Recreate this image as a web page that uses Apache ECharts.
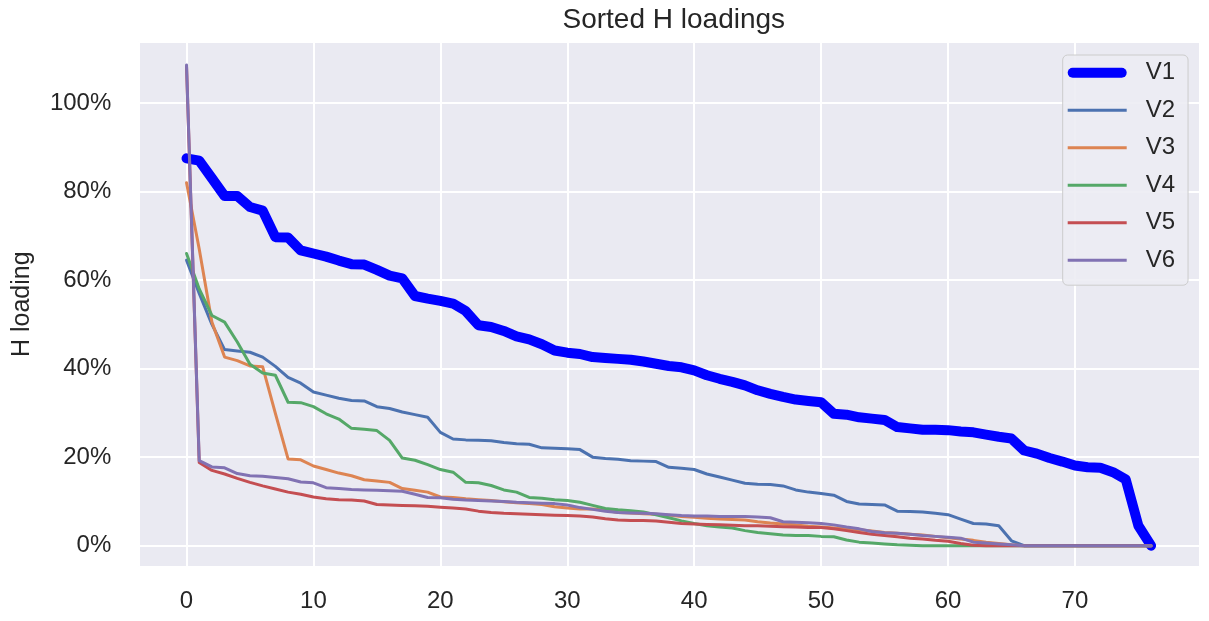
<!DOCTYPE html>
<html>
<head>
<meta charset="utf-8">
<script src="https://cdn.jsdelivr.net/npm/echarts@6/dist/echarts.min.js"></script>
<style>
html,body{margin:0;padding:0;background:#ffffff;}
#chart{width:1209px;height:621px;}
</style>
</head>
<body>
<div id="chart"></div>
<script>
// Sorted H loadings (percent), index 0..76
var seriesNames = ['V1', 'V2', 'V3', 'V4', 'V5', 'V6'];
var V1 = [87.5, 87, 83, 79, 79, 76.5, 75.7, 69.7, 69.6, 66.7, 66, 65.3, 64.4, 63.6, 63.5, 62.3, 61, 60.4, 56.4, 55.8,
  55.3, 54.7, 53, 49.8, 49.4, 48.5, 47.3, 46.6, 45.5, 44.1, 43.6, 43.3, 42.6, 42.4, 42.2, 42, 41.6, 41.1, 40.6, 40.3,
  39.6, 38.5, 37.7, 37, 36.2, 35.1, 34.3, 33.6, 33, 32.7, 32.4, 29.8, 29.6, 29, 28.7, 28.4, 26.8, 26.5, 26.2, 26.2,
  26.1, 25.8, 25.6, 25.1, 24.6, 24.2, 21.5, 20.8, 19.8, 19, 18.1, 17.7, 17.6, 16.6, 15, 4.5, 0];
var V2 = [64.5, 57, 50, 44.3, 44, 43.7, 42.6, 40.5, 38, 36.7, 34.7, 34, 33.3, 32.8, 32.7, 31.4, 31, 30.2, 29.6, 29,
  25.6, 24.1, 23.9, 23.8, 23.7, 23.3, 23, 22.9, 22.1, 22, 21.9, 21.7, 20, 19.7, 19.5, 19.2, 19.1, 19, 17.7, 17.5,
  17.2, 16.2, 15.5, 14.8, 14.1, 13.9, 13.8, 13.5, 12.6, 12.1, 11.8, 11.4, 10, 9.4, 9.3, 9.2, 7.8, 7.7, 7.6, 7.3,
  7, 6, 5, 4.9, 4.5, 1.1, 0, 0, 0, 0, 0, 0, 0, 0, 0, 0, 0];
var V3 = [82, 67, 50.5, 42.6, 41.8, 40.6, 40.4, 29.9, 19.6, 19.4, 18, 17.2, 16.4, 15.8, 14.9, 14.6, 14.3, 12.9, 12.5, 12.1,
  11, 10.9, 10.6, 10.4, 10.2, 9.9, 9.7, 9.5, 9.3, 8.8, 8.5, 8.3, 8.3, 8, 7.5, 7.4, 7.2, 7.1, 6.9, 6.6,
  6.4, 6.2, 6, 5.9, 5.8, 5.4, 5.1, 4.9, 4.7, 4.4, 4.2, 4, 3.8, 3.6, 3.3, 3, 2.8, 2.6, 2.4, 2.1,
  1.8, 1.5, 1.2, 0.8, 0.5, 0.2, 0, 0, 0, 0, 0, 0, 0, 0, 0, 0, 0];
var V4 = [66, 58, 52, 50.5, 46, 41, 39, 38.5, 32.4, 32.3, 31.4, 29.8, 28.6, 26.5, 26.3, 26, 23.8, 19.8, 19.3, 18.3,
  17.2, 16.6, 14.3, 14.2, 13.6, 12.6, 12.1, 10.9, 10.7, 10.4, 10.2, 9.8, 9.1, 8.4, 8.1, 7.9, 7.6, 7, 6.3, 5.6,
  5, 4.5, 4.2, 4, 3.4, 3, 2.7, 2.4, 2.3, 2.3, 2.1, 2, 1.3, 0.8, 0.6, 0.4, 0.2, 0.1, 0, 0,
  0, 0, 0, 0, 0, 0, 0, 0, 0, 0, 0, 0, 0, 0, 0, 0, 0];
var V5 = [108.3, 18.8, 17, 16.2, 15.2, 14.3, 13.5, 12.8, 12.1, 11.6, 11, 10.6, 10.4, 10.3, 10.1, 9.3, 9.2, 9.1, 9, 8.9,
  8.7, 8.5, 8.3, 7.8, 7.5, 7.3, 7.2, 7.1, 7, 6.9, 6.8, 6.7, 6.5, 6.1, 5.8, 5.7, 5.7, 5.6, 5.3, 5,
  4.9, 4.8, 4.7, 4.6, 4.5, 4.5, 4.4, 4.3, 4.2, 4.1, 4.1, 3.8, 3.4, 3, 2.6, 2.3, 2, 1.7, 1.5, 1.2,
  1, 0.5, 0.1, 0, 0, 0, 0, 0, 0, 0, 0, 0, 0, 0, 0, 0, 0];
var V6 = [108.6, 19.2, 17.8, 17.6, 16.3, 15.8, 15.7, 15.4, 15.1, 14.4, 14.2, 13.1, 12.9, 12.7, 12.6, 12.5, 12.4, 12.3, 11.6, 10.9,
  10.8, 10.5, 10.3, 10.2, 10.1, 10, 9.8, 9.7, 9.6, 9.5, 9.2, 8.6, 8.2, 7.8, 7.5, 7.4, 7.3, 7.2, 7, 6.8,
  6.7, 6.7, 6.6, 6.6, 6.6, 6.5, 6.3, 5.4, 5.3, 5.2, 5, 4.7, 4.2, 3.8, 3.2, 2.9, 2.8, 2.6, 2.3, 2.1,
  1.9, 1.7, 0.8, 0.6, 0.4, 0.2, 0, 0, 0, 0, 0, 0, 0, 0, 0, 0, 0];
var xTickValues = [0, 10, 20, 30, 40, 50, 60, 70];
var yTickValues = [0, 20, 40, 60, 80, 100];

var allValues = [V1, V2, V3, V4, V5, V6];
var colors = ['#0000ff', '#4c72b0', '#dd8452', '#55a868', '#c44e52', '#8172b3'];
var widths = [10, 3, 3, 3, 3, 3];
var txt = '#262626';
var font = 'Liberation Sans, Arial, Helvetica, sans-serif';

var thickIcon = 'path://M5,0 L54,0 A5,5 0 0 1 54,10 L5,10 A5,5 0 0 1 5,0 Z';
var thinIcon = 'path://M0,0 L59,0 L59,3 L0,3 Z';

var chart = echarts.init(document.getElementById('chart'), null, {renderer: 'canvas'});
var series = seriesNames.map(function (name, k) {
  return {
    name: name,
    type: 'line',
    symbol: 'none',
    clip: false,
    data: allValues[k].map(function (v, i) { return [i, v]; }),
    lineStyle: {color: colors[k], width: widths[k], cap: 'round', join: 'round'},
    itemStyle: {color: colors[k]},
    emphasis: {disabled: true},
    z: 2 + k
  };
});

chart.setOption({
  animation: false,
  backgroundColor: '#ffffff',
  title: {
    text: 'Sorted H loadings',
    left: 668.8,
    textAlign: 'center',
    top: 1,
    textStyle: {fontFamily: font, fontSize: 28, fontWeight: 'normal', color: txt}
  },
  grid: {
    left: 138.3, right: 9.7, top: 41.7, bottom: 54.3,
    show: true, backgroundColor: '#eaeaf2', borderWidth: 0
  },
  legend: {
    orient: 'vertical',
    left: 1062.7,
    top: 55,
    data: seriesNames.map(function (n, k) {
      return {name: n, icon: k === 0 ? thickIcon : thinIcon, itemStyle: {color: colors[k], borderWidth: 0}};
    }),
    itemWidth: 59,
    itemHeight: 14,
    itemGap: 13.5,
    padding: [5.7, 13, 13, 5],
    backgroundColor: 'rgba(236,236,243,0.9)',
    borderColor: '#cccccc',
    borderWidth: 1,
    borderRadius: 5,
    textStyle: {fontFamily: font, fontSize: 24, color: txt, padding: [0, 0, 0, 14]}
  },
  xAxis: {
    type: 'value',
    min: -3.8,
    max: 79.8,
    splitNumber: 8,
    axisLine: {show: false},
    axisTick: {show: false},
    axisLabel: {
      margin: 23,
      fontFamily: font, fontSize: 24, color: txt,
      formatter: function (v) { return xTickValues.indexOf(Math.round(v * 1000) / 1000) >= 0 ? String(v) : ''; }
    },
    splitLine: {show: true, lineStyle: {color: '#ffffff', width: 2}}
  },
  yAxis: {
    type: 'value',
    min: -4.75,
    max: 113.85,
    splitNumber: 6,
    name: 'H loading',
    nameLocation: 'middle',
    nameGap: 104,
    nameTextStyle: {fontFamily: font, fontSize: 25, color: txt},
    axisLine: {show: false},
    axisTick: {show: false},
    axisLabel: {
      margin: 27,
      fontFamily: font, fontSize: 24, color: txt,
      formatter: function (v) { return yTickValues.indexOf(Math.round(v * 1000) / 1000) >= 0 ? v + '%' : ''; }
    },
    splitLine: {show: true, lineStyle: {color: '#ffffff', width: 2}}
  },
  series: series
});
</script>
</body>
</html>
